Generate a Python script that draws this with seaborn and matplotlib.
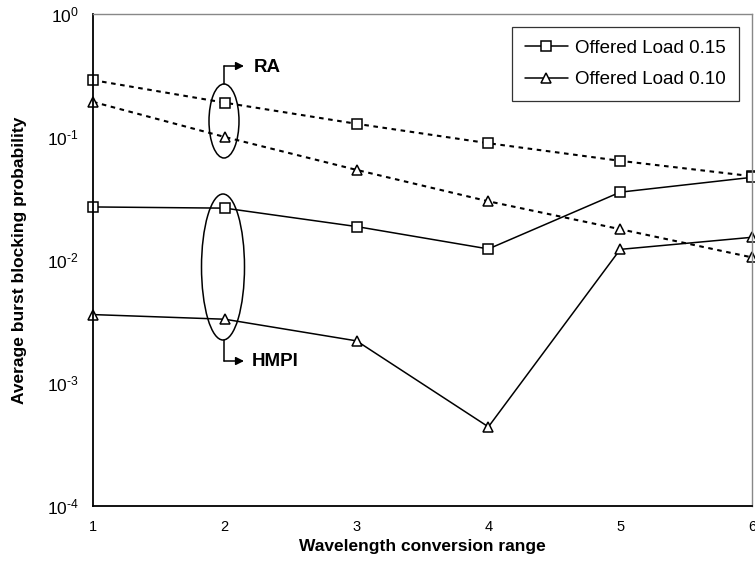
import matplotlib
matplotlib.use("Agg")
import matplotlib.pyplot as plt
import seaborn as sns
import numpy as np
import pandas as pd
from matplotlib.patches import Ellipse
from matplotlib.ticker import LogLocator, NullFormatter, FuncFormatter

# ---- data ----
conv_range = [1, 2, 3, 4, 5, 6]
ra_load015 = [0.29, 0.19, 0.128, 0.089, 0.064, 0.048]
ra_load010 = [0.193, 0.10, 0.054, 0.030, 0.0178, 0.0105]
hmpi_load015 = [0.027, 0.0264, 0.0187, 0.0123, 0.0356, 0.047]
hmpi_load010 = [0.0036, 0.0033, 0.0022, 0.00044, 0.0122, 0.0153]
legend_labels = ["Offered Load 0.15", "Offered Load 0.10"]

sns.set_style("white")
plt.rcParams["font.family"] = ["Liberation Sans", "DejaVu Sans"]
plt.rcParams["mathtext.fontset"] = "custom"
plt.rcParams["mathtext.rm"] = "Liberation Sans"
plt.rcParams["mathtext.it"] = "Liberation Sans:italic"
plt.rcParams["mathtext.bf"] = "Liberation Sans:bold"
plt.rcParams["axes.unicode_minus"] = False
plt.rcParams["text.color"] = "black"
plt.rcParams["axes.labelcolor"] = "black"
plt.rcParams["xtick.color"] = "black"
plt.rcParams["ytick.color"] = "black"

fig = plt.figure(figsize=(7.55, 5.75), dpi=100)
ax = fig.add_axes([93 / 755, 1 - 506 / 575, 659 / 755, 492 / 575])

mk = dict(markerfacecolor="white", markeredgecolor="black", markeredgewidth=1.1,
          color="black", clip_on=False)

sns.lineplot(x=conv_range, y=ra_load015, ax=ax, marker="s", markersize=6.5,
             linestyle=(0, (2.2, 2.2)), linewidth=1.5, **mk)
sns.lineplot(x=conv_range, y=ra_load010, ax=ax, marker="^", markersize=7.5,
             linestyle=(0, (2.2, 2.2)), linewidth=1.5, **mk)
sns.lineplot(x=conv_range, y=hmpi_load015, ax=ax, marker="s", markersize=6.5,
             linewidth=1.1, label=legend_labels[0], **mk)
sns.lineplot(x=conv_range, y=hmpi_load010, ax=ax, marker="^", markersize=7.5,
             linewidth=1.1, label=legend_labels[1], **mk)

ax.set_yscale("log")
ax.set_xlim(1, 6)
ax.set_ylim(1e-4, 1)
ax.set_xticks(conv_range)
ax.set_xticklabels([str(v) for v in conv_range])
ax.yaxis.set_major_locator(LogLocator(base=10, numticks=10))
ax.yaxis.set_minor_locator(LogLocator(base=10, subs=np.arange(2, 10), numticks=20))
ax.yaxis.set_minor_formatter(NullFormatter())


def log_fmt(v, pos):
    e = int(round(np.log10(v)))
    if e < 0:
        return r"$10^{\text{-}%d}$" % (-e)
    return r"$10^{%d}$" % e


ax.yaxis.set_major_formatter(FuncFormatter(log_fmt))

ax.tick_params(axis="both", which="major", direction="in", length=5, width=0.9,
               colors="black")
ax.tick_params(axis="x", which="major", labelsize=10.5, pad=10)
ax.tick_params(axis="y", which="major", labelsize=12.5, pad=10)
ax.tick_params(axis="y", which="minor", direction="in", length=3, width=0.8)

for s in ["left", "bottom"]:
    ax.spines[s].set_color("black")
    ax.spines[s].set_linewidth(1.3)
for s in ["top", "right"]:
    ax.spines[s].set_color("#888888")
    ax.spines[s].set_linewidth(1.0)

ax.set_xlabel("Wavelength conversion range", fontsize=12.5, fontweight="bold")
ax.set_ylabel("Average burst blocking probability", fontsize=12.5, fontweight="bold")
ax.xaxis.set_label_coords(0.5, -0.068)
ax.yaxis.set_label_coords(-0.10, 0.5)

leg = ax.legend(loc="upper right", bbox_to_anchor=(0.98, 0.974), borderaxespad=0,
                fancybox=False, frameon=True, fontsize=13.5, handlelength=2.3,
                handletextpad=0.37, labelspacing=0.75, borderpad=0.7)
leg.get_frame().set_edgecolor("black")
leg.get_frame().set_linewidth(0.9)

# annotations (ellipses and arrows) in axes fraction coordinates
def px(xp, yp):
    return ((xp - 93) / 659, 1 - (yp - 14) / 492)

cx, cy = px(224, 121)
ax.add_patch(Ellipse((cx, cy), 30 / 659, 74 / 492, transform=ax.transAxes,
                     fill=False, edgecolor="black", linewidth=1.1, clip_on=False))
cx2, cy2 = px(223, 267)
ax.add_patch(Ellipse((cx2, cy2), 43 / 659, 146 / 492, transform=ax.transAxes,
                     fill=False, edgecolor="black", linewidth=1.1, clip_on=False))

# RA arrow
p0 = px(224, 84); p1 = px(224, 66); p2 = px(244, 66)
ax.plot([p0[0], p1[0]], [p0[1], p1[1]], color="black", lw=1.1, transform=ax.transAxes)
ax.annotate("", xy=p2, xytext=p1, xycoords="axes fraction",
            arrowprops=dict(arrowstyle="-|>", color="black", lw=1.1,
                            mutation_scale=12, shrinkA=0, shrinkB=0))
ax.text(*px(254, 67), "RA", transform=ax.transAxes, fontsize=13.5, fontweight="bold",
        va="center", ha="left")

# HMPI arrow
q0 = px(224, 340); q1 = px(224, 361); q2 = px(244, 361)
ax.plot([q0[0], q1[0]], [q0[1], q1[1]], color="black", lw=1.1, transform=ax.transAxes)
ax.annotate("", xy=q2, xytext=q1, xycoords="axes fraction",
            arrowprops=dict(arrowstyle="-|>", color="black", lw=1.1,
                            mutation_scale=12, shrinkA=0, shrinkB=0))
ax.text(*px(252, 362), "HMPI", transform=ax.transAxes, fontsize=13.5, fontweight="bold",
        va="center", ha="left")

fig.savefig("out.png", dpi=100)
